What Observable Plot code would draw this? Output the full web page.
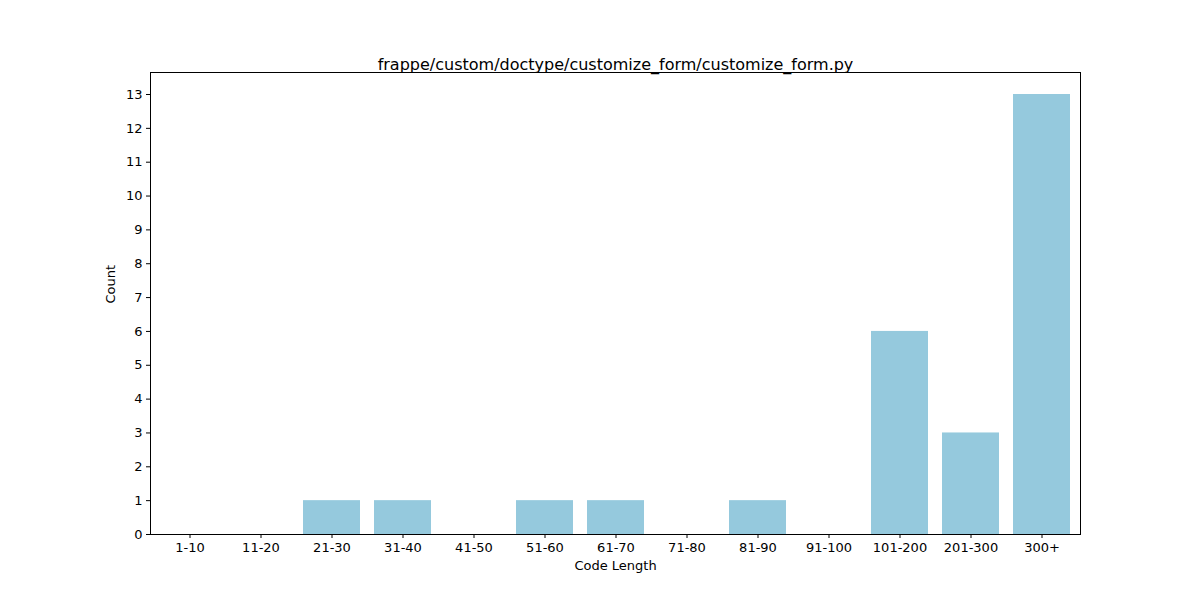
<!DOCTYPE html>
<html>
<head>
<meta charset="utf-8">
<script src="https://cdn.jsdelivr.net/npm/d3@7"></script>
<script src="https://cdn.jsdelivr.net/npm/@observablehq/plot@0.6"></script>
<style>
  body { margin: 0; background: #fff; }
  svg { font-family: "DejaVu Sans", sans-serif; }
</style>
</head>
<body>
<div id="chart"></div>
<script>
const categories = ["1-10", "11-20", "21-30", "31-40", "41-50", "51-60", "61-70", "71-80", "81-90", "91-100", "101-200", "201-300", "300+"];
const counts = [0, 0, 1, 1, 0, 1, 1, 0, 1, 0, 6, 3, 13];
const yTicks = d3.range(0, 14);
const title = "frappe/custom/doctype/customize_form/customize_form.py";

const data = categories.map((c, i) => ({ cat: c, n: counts[i] }));

const chart = Plot.plot({
  width: 1200,
  height: 600,
  marginTop: 72,
  marginBottom: 66,
  marginLeft: 150,
  marginRight: 120,
  style: { fontSize: "13px", fontFamily: "DejaVu Sans, sans-serif", color: "#000" },
  x: { domain: categories, paddingInner: 0.2, paddingOuter: 0.1, label: null },
  y: { domain: [0, 13.65], label: null },
  marks: [
    Plot.barY(data, { x: "cat", y: "n", fill: "#95c9dd" }),
    Plot.axisX({ tickSize: 4, tickPadding: 4, fontSize: 13 }),
    Plot.axisY({ ticks: yTicks, tickSize: 4, tickPadding: 4, fontSize: 13 }),
    Plot.frame({ stroke: "#000" }),
    Plot.text([title], { frameAnchor: "top", dy: -14, fontSize: 16, text: d => d }),
    Plot.text(["Code Length"], { frameAnchor: "bottom", dy: 35, fontSize: 13, text: d => d }),
    Plot.text(["Count"], { frameAnchor: "left", dx: -40, rotate: -90, fontSize: 13, text: d => d })
  ]
});
document.getElementById("chart").append(chart);
</script>
</body>
</html>
